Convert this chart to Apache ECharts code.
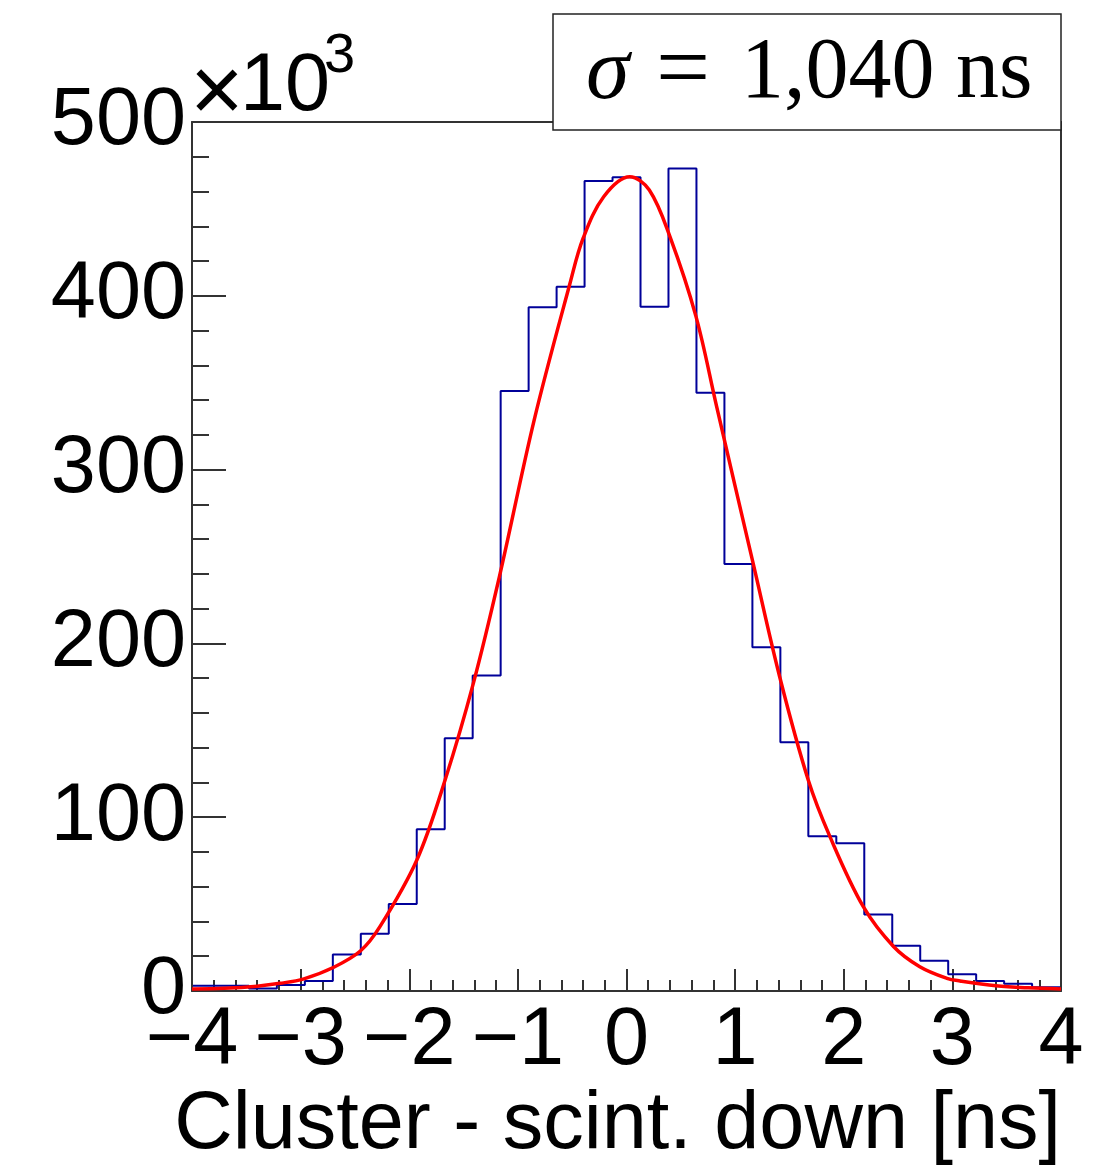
<!DOCTYPE html>
<html><head><meta charset="utf-8">
<script src="https://cdn.jsdelivr.net/npm/echarts@6/dist/echarts.min.js"></script>
<style>html,body{margin:0;padding:0;background:#fff}#c{width:1117px;height:1166px}</style>
</head><body><div id="c"></div>
<script>
// Histogram: 31 bins, counts in thousands
const binLowEdge = -3.991;
const binWidth = 0.2575;
const counts = [3.0, 3.0, 1.5, 3.5, 5.7, 21.0, 33.0, 50.0, 93.0, 145.4, 181.6, 345.2, 393.4, 405.2, 466.0, 468.2, 393.7, 473.3, 344.2, 245.7, 197.8, 143.1, 89.0, 85.0, 44.0, 26.0, 17.4, 9.6, 5.8, 4.2, 2.1];
// Gaussian fit curve (x in ns, y in thousands)
const fitX = [-4.0, -3.7, -3.4, -3.19, -2.97, -2.70, -2.45, -2.27, -1.93, -1.67, -1.41, -1.17, -0.85, -0.52, -0.40, -0.21, 0.03, 0.21, 0.40, 0.64, 0.83, 1.166, 1.41, 1.673, 1.873, 2.18, 2.46, 2.70, 2.95, 3.07, 3.4, 3.7, 4.0];
const fitY = [1.2, 1.6, 2.8, 4.4, 7.0, 13.5, 23.0, 37.0, 75.4, 121.4, 177.0, 238.4, 328.5, 407.2, 433.0, 457.0, 468.5, 460.9, 434.0, 388.0, 336.2, 246.0, 180.8, 121.4, 88.8, 48.5, 25.5, 14.0, 7.3, 5.8, 3.0, 1.8, 1.2];
const xAxisTitle = 'Cluster - scint. down [ns]';
const sigmaText = ['\u03C3', '=', '1,040 ns'];

const histData = counts.map((c, i) => [binLowEdge + i * binWidth, c]);
histData.push([binLowEdge + counts.length * binWidth, counts[counts.length - 1]]);
const fitData = fitX.map((x, i) => [x, fitY[i]]);

const FONT = '"Liberation Sans", Arial, sans-serif';
const frameColor = '#333';
const chart = echarts.init(document.getElementById('c'), null, {renderer: 'canvas'});
chart.setOption({
  animation: false,
  backgroundColor: '#fff',
  grid: {left: 192, right: 56, top: 122, bottom: 175},
  xAxis: [{
    type: 'value', min: -4, max: 4, interval: 1,
    axisLine: {show: true, onZero: false, lineStyle: {color: frameColor, width: 2}},
    axisTick: {show: true, inside: true, length: 22, lineStyle: {color: frameColor, width: 2}},
    minorTick: {show: true, splitNumber: 5, length: 11, lineStyle: {color: frameColor, width: 2}},
    splitLine: {show: false},
    axisLabel: {fontSize: 81, fontFamily: FONT, color: '#000', margin: 10, showMinLabel: true, showMaxLabel: true,
      formatter: v => String(v).replace('-', '\u2212')}
  }, {
    type: 'value', min: -4, max: 4, position: 'top',
    axisLine: {show: true, onZero: false, lineStyle: {color: frameColor, width: 2}},
    axisTick: {show: false}, axisLabel: {show: false}, splitLine: {show: false}
  }],
  yAxis: [{
    type: 'value', min: 0, max: 500, interval: 100,
    axisLine: {show: true, onZero: false, lineStyle: {color: frameColor, width: 2}},
    axisTick: {show: true, inside: true, length: 34, lineStyle: {color: frameColor, width: 2}},
    minorTick: {show: true, splitNumber: 5, length: 17, lineStyle: {color: frameColor, width: 2}},
    splitLine: {show: false},
    axisLabel: {fontSize: 81, fontFamily: FONT, color: '#000', margin: 6, showMinLabel: true, showMaxLabel: true}
  }, {
    type: 'value', min: 0, max: 500, position: 'right',
    axisLine: {show: true, onZero: false, lineStyle: {color: frameColor, width: 2}},
    axisTick: {show: false}, axisLabel: {show: false}, splitLine: {show: false}
  }],
  series: [{
    type: 'line', data: histData, step: 'end', showSymbol: false, symbol: 'none',
    lineStyle: {color: '#000099', width: 2}, z: 2
  }, {
    type: 'line', data: fitData, smooth: 0.35, showSymbol: false, symbol: 'none',
    lineStyle: {color: '#ff0000', width: 3.5}, z: 3
  }],
  graphic: [
    {type: 'text', left: 190, top: 50, style: {text: '\u00D7', font: '92px ' + FONT, fill: '#000'}},
    {type: 'text', left: 240, top: 47, style: {text: '10', font: '81px ' + FONT, fill: '#000'}},
    {type: 'text', left: 324, top: 29, style: {text: '3', font: '56px ' + FONT, fill: '#000'}},
    {type: 'text', right: 56, top: 1085, style: {text: xAxisTitle, font: '81px ' + FONT, fill: '#000'}},
    {type: 'rect', shape: {x: 553, y: 14, width: 508, height: 116}, style: {fill: '#fff', stroke: '#222', lineWidth: 1.5}, z: 10},
    {type: 'text', left: 586, top: 31, z: 11, style: {text: sigmaText[0], font: 'italic 88px "Liberation Serif", serif', fill: '#000'}},
    {type: 'text', left: 656, top: 26, z: 11, style: {text: sigmaText[1], font: '96px "Liberation Serif", serif', fill: '#000'}},
    {type: 'text', left: 741, top: 31, z: 11, style: {text: sigmaText[2], font: '86px "Liberation Serif", serif', fill: '#000'}}
  ]
});
</script></body></html>
